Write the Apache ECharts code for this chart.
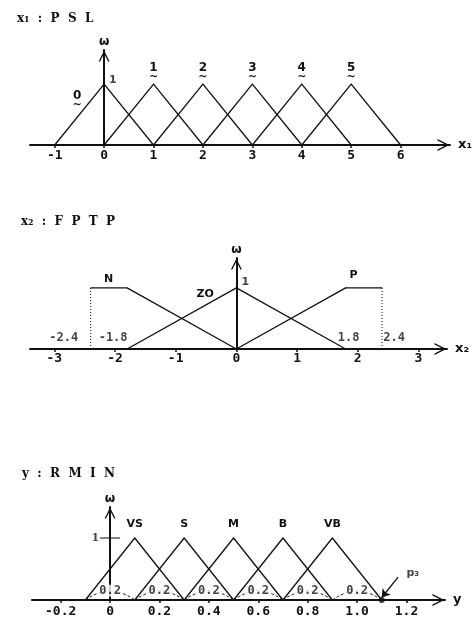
<!DOCTYPE html>
<html>
<head>
<meta charset="utf-8">
<script src="https://cdn.jsdelivr.net/npm/echarts@6/dist/echarts.min.js"></script>
<style>
  html, body { margin: 0; background: #fff; }
  #main { width: 474px; height: 618px; }
</style>
</head>
<body>
<div id="main"></div>
<script>
// x1 : PSL  -- triangle feet/peak for each fuzzy number
var pslNames = ['0', '1', '2', '3', '4', '5'];
var pslPoints = [[-1, 0, 1], [0, 1, 2], [1, 2, 3], [2, 3, 4], [3, 4, 5], [4, 5, 6]];
var pslTicks = [-1, 0, 1, 2, 3, 4, 5, 6];

// x2 : FPTP
var nX = [-2.4, -1.8, 0], nY = [1, 1, 0];
var zoX = [-1.8, 0, 1.8], zoY = [0, 1, 0];
var pX = [0, 1.8, 2.4], pY = [0, 1, 1];
var fptpTicks = [-3, -2, -1, 0, 1, 2, 3];
var fptpMarks = [-2.4, -1.8, 1.8, 2.4];

// y : RMIN
var rminNames = ['VS', 'S', 'M', 'B', 'VB'];
var rminPoints = [[-0.1, 0.1, 0.3], [0.1, 0.3, 0.5], [0.3, 0.5, 0.7], [0.5, 0.7, 0.9], [0.7, 0.9, 1.1]];
var rminTicks = [-0.2, 0, 0.2, 0.4, 0.6, 0.8, 1.0, 1.2];
var rminGap = 0.2;
var p3 = 1.1;

var ink = '#111';
var sans = 'DejaVu Sans';
var serif = 'DejaVu Serif';
var mono = 'DejaVu Sans Mono';
// open V arrow head
var chevron = 'path://M0,12 L6,0 L12,12 L10.4,12 L6,3.2 L1.6,12 Z';

var chart = echarts.init(document.getElementById('main'));

function xAxisOf(idx, min, max, ticks, name, labelMargin, fmt) {
  return {
    gridIndex: idx, type: 'value', min: min, max: max,
    axisLine: {
      onZero: true, lineStyle: { color: ink, width: 2 },
      symbol: ['none', chevron], symbolSize: [12, 13], symbolOffset: [0, -6.5]
    },
    axisTick: { customValues: ticks, length: 3, lineStyle: { color: ink, width: 1.5 } },
    axisLabel: {
      customValues: ticks, margin: labelMargin, color: ink,
      fontFamily: mono, fontWeight: 'bold', fontSize: 13,
      formatter: fmt || function (v) { return String(v); }
    },
    splitLine: { show: false },
    name: name, nameGap: 8,
    nameTextStyle: { color: ink, fontFamily: sans, fontWeight: 'bold', fontSize: 13, verticalAlign: 'middle' }
  };
}

function yAxisOf(idx, max) {
  return {
    gridIndex: idx, type: 'value', min: 0, max: max,
    axisLine: {
      onZero: true, lineStyle: { color: ink, width: 2 },
      symbol: ['none', chevron], symbolSize: [11, 12], symbolOffset: [0, -6]
    },
    axisTick: { show: false },
    axisLabel: { show: false },
    splitLine: { show: false },
    name: 'ω', nameGap: 2,
    nameTextStyle: { color: ink, fontFamily: sans, fontWeight: 'bold', fontSize: 12 }
  };
}

var plain = { fontFamily: sans, fontWeight: 'bold', fontSize: 11, color: ink };

// membership value 1 marker on the ω axis
function oneMark(idx, symbol, size, label) {
  return {
    type: 'scatter', xAxisIndex: idx, yAxisIndex: idx, symbol: symbol, symbolSize: size,
    animation: false, silent: true, itemStyle: { color: ink },
    data: [[0, 1]],
    label: Object.assign({ show: true, formatter: '1' }, plain, label)
  };
}

function lineOf(idx, data) {
  return {
    type: 'line', xAxisIndex: idx, yAxisIndex: idx,
    symbol: 'circle', symbolSize: 1, showSymbol: true, silent: true, animation: false,
    itemStyle: { color: ink },
    lineStyle: { color: ink, width: 1.3 },
    data: data
  };
}

function tildeLabel(text, extra) {
  return Object.assign({
    show: true, position: 'top', distance: 3,
    formatter: '{d|' + text + '}\n{t|~}',
    rich: {
      d: { fontFamily: sans, fontWeight: 'bold', fontSize: 12, color: ink, lineHeight: 11 },
      t: { fontFamily: sans, fontWeight: 'bold', fontSize: 11, color: ink, lineHeight: 7 }
    }
  }, extra || {});
}

var series = [];

// panel 1
pslPoints.forEach(function (p, i) {
  var lab = i === 0 ? tildeLabel(pslNames[i], { offset: [-27, 28] }) : tildeLabel(pslNames[i]);
  series.push(lineOf(0, [[p[0], 0], { value: [p[1], 1], label: lab }, [p[2], 0]]));
});
series.push(oneMark(0, 'circle', 0, { position: 'right', distance: 5, offset: [0, -4] }));

// panel 2
series.push(lineOf(1, nX.map(function (x, i) {
  return i === 0 ? { value: [x, nY[i]], label: Object.assign({ show: true, position: 'top', distance: 3, offset: [18, 0], formatter: 'N' }, plain) } : [x, nY[i]];
})));
series.push(lineOf(1, zoX.map(function (x, i) {
  return i === 1 ? { value: [x, zoY[i]], label: Object.assign({ show: true, position: 'left', distance: 22, offset: [0, 6], formatter: 'ZO' }, plain) } : [x, zoY[i]];
})));
series.push(lineOf(1, pX.map(function (x, i) {
  return i === 1 ? { value: [x, pY[i]], label: Object.assign({ show: true, position: 'top', distance: 7, offset: [8, 0], formatter: 'P' }, plain) } : [x, pY[i]];
})));
series.push(oneMark(1, 'circle', 0, { position: 'right', distance: 5, offset: [0, -6] }));
// dotted edges of N and P
[[nX[0], nY[0]], [pX[2], pY[2]]].forEach(function (e) {
  series.push({
    type: 'line', xAxisIndex: 1, yAxisIndex: 1, symbol: 'none', animation: false, silent: true,
    lineStyle: { color: ink, width: 1, type: [1, 2] },
    data: [[e[0], 0], [e[0], e[1]]]
  });
});
// breakpoint labels above the axis
var markOffsets = [-27, -14, 3, 12];
series.push({
  type: 'scatter', xAxisIndex: 1, yAxisIndex: 1, symbolSize: 0, animation: false, silent: true,
  data: fptpMarks.map(function (x, i) {
    return {
      value: [x, 0],
      label: {
        show: true, position: 'top', distance: 5, offset: [markOffsets[i], 0],
        formatter: String(x), fontFamily: mono, fontWeight: 'bold', fontSize: 12, color: ink
      }
    };
  })
});

// panel 3
rminPoints.forEach(function (p, i) {
  series.push(lineOf(2, [[p[0], 0], {
    value: [p[1], 1],
    label: Object.assign({ show: true, position: 'top', distance: 8, formatter: rminNames[i] }, plain)
  }, [p[2], 0]]));
});
series.push(oneMark(2, 'rect', [20, 1.3], { position: 'left', distance: 1, fontFamily: serif }));
// dashed spans between neighbouring feet, each labelled with its width
var feet = [];
rminPoints.forEach(function (p) {
  [p[0], p[2]].forEach(function (f) {
    if (!feet.some(function (g) { return Math.abs(g - f) < 1e-9; })) feet.push(f);
  });
});
feet.sort(function (a, b) { return a - b; });
var spanMids = [];
for (var i = 0; i < feet.length - 1; i++) {
  var a = feet[i], b = feet[i + 1];
  spanMids.push([(a + b) / 2, 0.15]);
  series.push({
    type: 'line', xAxisIndex: 2, yAxisIndex: 2,
    symbol: 'none', smooth: true, animation: false, silent: true,
    lineStyle: { color: '#222', width: 1, type: [3, 2] },
    data: [[a, 0], [(a + b) / 2, 0.15], [b, 0]]
  });
}
series.push({
  type: 'scatter', xAxisIndex: 2, yAxisIndex: 2, symbolSize: 0, animation: false, silent: true, z: 5,
  data: spanMids,
  label: {
    show: true, position: 'inside', formatter: rminGap.toFixed(1),
    fontFamily: mono, fontWeight: 'bold', fontSize: 12, color: ink,
    backgroundColor: '#fff', padding: [0, 1]
  }
});
// p3 point and its pointer
series.push({
  type: 'scatter', xAxisIndex: 2, yAxisIndex: 2, symbolSize: 6, animation: false, silent: true,
  itemStyle: { color: ink },
  data: [[p3, 0]],
  label: {
    show: true, position: 'inside', offset: [31, -27], formatter: 'p₃',
    fontFamily: sans, fontWeight: 'bold', fontSize: 11, color: ink
  },
  markLine: {
    silent: true, animation: false,
    symbol: ['none', 'arrow'], symbolSize: 8,
    lineStyle: { color: ink, width: 1.3, type: 'solid' },
    label: { show: false },
    data: [[{ coord: [p3 + 0.066, 0.37] }, { coord: [p3, 0.04] }]]
  }
});

var titleStyle = { fontFamily: serif, fontWeight: 'bold', fontSize: 12, color: ink };

chart.setOption({
  animation: false,
  title: [
    { text: 'x₁  :  P  S  L', left: 12, top: 8, textStyle: titleStyle },
    { text: 'x₂  :  F  P  T  P', left: 16, top: 211, textStyle: titleStyle },
    { text: 'y  :  R  M  I  N', left: 17, top: 463, textStyle: titleStyle }
  ],
  grid: [
    { left: 30, top: 50, width: 420, height: 95 },
    { left: 30, top: 258, width: 417, height: 91 },
    { left: 32, top: 507, width: 413, height: 93 }
  ],
  xAxis: [
    xAxisOf(0, -1.5, 7, pslTicks, 'x₁', 4),
    xAxisOf(1, -3.4, 3.47, fptpTicks, 'x₂', 3),
    Object.assign(xAxisOf(2, -0.316, 1.356, rminTicks, 'y', 5, function (v) {
      return v === 0 ? '0' : v.toFixed(1);
    }), { nameTextStyle: { color: ink, fontFamily: sans, fontWeight: 'bold', fontSize: 13, padding: [0, 0, 18, 0] } })
  ],
  yAxis: [
    yAxisOf(0, 1.56),
    yAxisOf(1, 1.49),
    yAxisOf(2, 1.5)
  ],
  series: series
});
</script>
</body>
</html>
